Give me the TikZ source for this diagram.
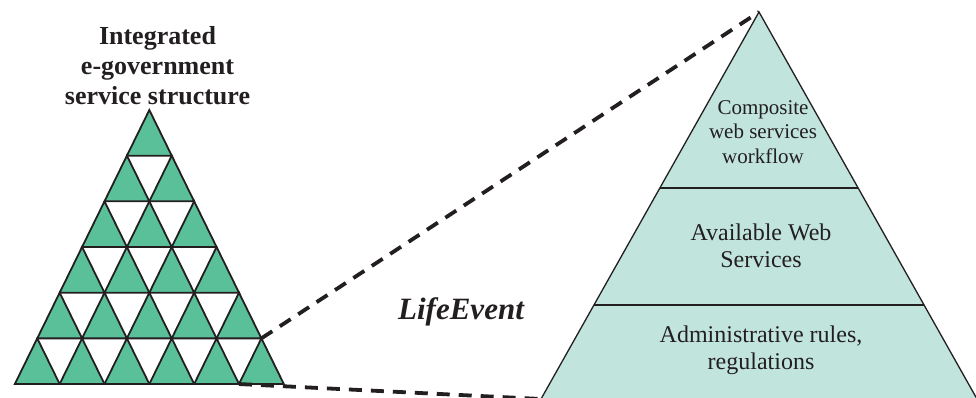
\documentclass[tikz,border=0pt]{standalone}
\usepackage{fontspec}
\setmainfont{Liberation Serif}
\usetikzlibrary{calc}
\definecolor{cellgreen}{RGB}{90,192,154}
\definecolor{layerfill}{RGB}{193,228,221}
\definecolor{ink}{RGB}{35,31,32}
\tikzset{
  cell/.style={fill=cellgreen, draw=ink, line width=1.8pt, line join=miter},
  layer/.style={fill=layerfill, draw=ink, line width=1.3pt},
  divider/.style={draw=ink, line width=1.8pt},
  zoomline/.style={draw=ink, line width=3.8pt, dash pattern=on 13pt off 9pt},
  title/.style={align=center, text=ink, font=\fontsize{26}{30}\selectfont\bfseries},
  layertext/.style={align=center, text=ink, font=\fontsize{24}{27}\selectfont},
  toptext/.style={align=center, text=ink, font=\fontsize{21}{24.5}\selectfont},
}
\begin{document}
\begin{tikzpicture}[x=1pt,y=-1pt]
\useasboundingbox (0,0) rectangle (976,397);

% left pyramid of small cells: 6 rows of upward triangles
\def\apx{149.33}\def\apy{110}\def\cw{44.83}\def\ch{45.67}
\foreach \r in {0,...,5}{
  \foreach \k in {0,...,\r}{
    \pgfmathsetmacro{\tx}{\apx+(\k-\r/2)*\cw}
    \pgfmathsetmacro{\ty}{\apy+\r*\ch}
    \draw[cell] (\tx,\ty) -- ({\tx-\cw/2},{\ty+\ch}) -- ({\tx+\cw/2},{\ty+\ch}) -- cycle;
  }
}
\coordinate (cellR) at ({\apx+2.5*\cw},{\apy+5*\ch});
\coordinate (cellB) at ({\apx+2*\cw},{\apy+6*\ch});

\node[title] (struct) at (157.5,66) {Integrated\\e-government\\service structure};

% right pyramid with its three layers
\coordinate (apex) at (759,12);
\coordinate (baseL) at (541,399);
\coordinate (baseR) at (977,399);
\draw[layer] (apex) -- (baseL) -- (baseR) -- cycle;
\coordinate (d1L) at ($(apex)!0.4548!(baseL)$);
\coordinate (d1R) at ($(apex)!0.4548!(baseR)$);
\coordinate (d2L) at ($(apex)!0.7571!(baseL)$);
\coordinate (d2R) at ($(apex)!0.7571!(baseR)$);
\draw[divider] (d1L) -- (d1R);
\draw[divider] (d2L) -- (d2R);

\node[toptext] (workflow) at (763,132) {Composite\\web services\\workflow};
\node[layertext] (available) at (761,246) {Available Web\\Services};
\node[layertext] (rules) at (761,350) {Administrative rules,\\regulations};

% zoom lines from the corner cell to the detailed pyramid
\draw[zoomline] (cellR) -- (apex);
\draw[zoomline] (cellB) -- (baseL);

\node[text=ink, font=\fontsize{31}{36}\selectfont\bfseries\itshape] (life) at (461,312) {LifeEvent};
\end{tikzpicture}
\end{document}
